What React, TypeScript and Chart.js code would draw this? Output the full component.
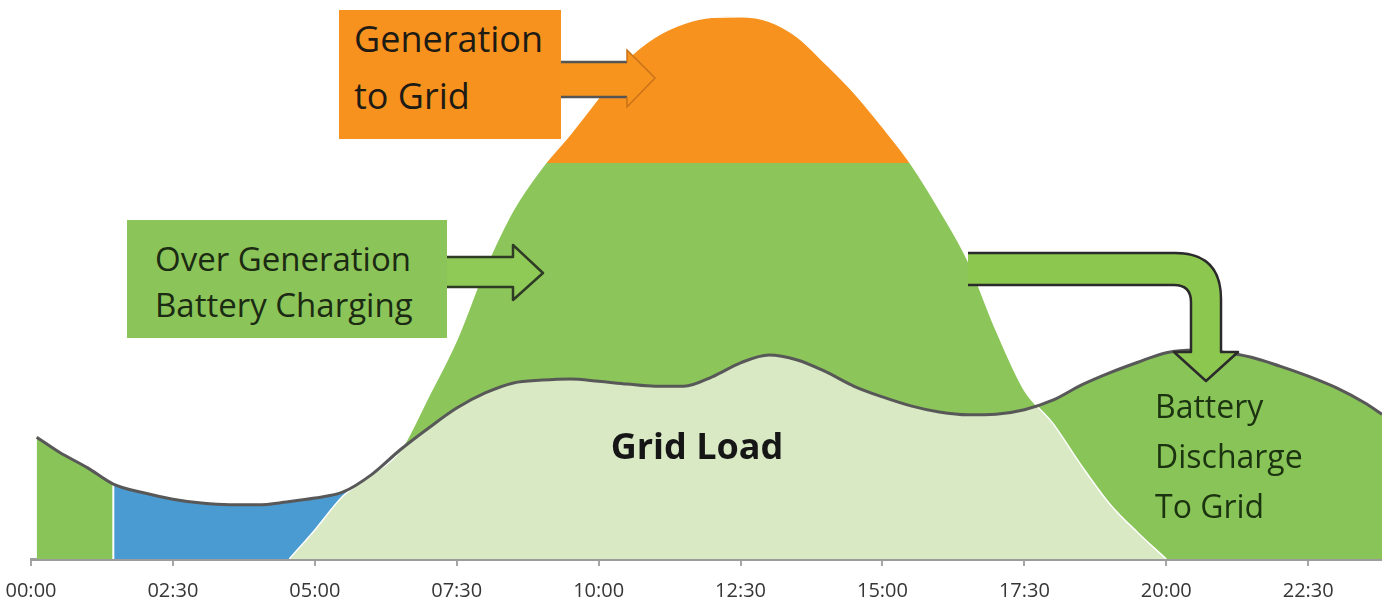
import React, { useEffect, useRef } from 'react';
import { Chart, registerables } from 'chart.js';

Chart.register(...registerables);

// ---- axis ----
const TICK_HOURS = [0, 2.5, 5, 7.5, 10, 12.5, 15, 17.5, 20, 22.5];
const TICK_LABELS = ['00:00', '02:30', '05:00', '07:30', '10:00', '12:30', '15:00', '17:30', '20:00', '22:30'];
const X_MIN = 0;
const X_MAX = 23.8;

// ---- grid load (relative power, 0-100) ----
const LOAD_HOURS = [0.1, 0.5, 1, 1.45, 2, 2.5, 3, 3.5, 4, 4.5, 5, 5.5, 6, 6.5, 7, 7.5, 8, 8.5, 9, 9.5, 10, 10.5, 11, 11.5, 12, 12.5, 13, 13.5, 14, 14.5, 15, 15.5, 16, 16.5, 17, 17.5, 18, 18.5, 19, 19.5, 20, 20.5, 21, 21.5, 22, 22.5, 23, 23.5, 23.8];
const LOAD = [21.8, 19.1, 16.3, 13.4, 11.8, 10.7, 10.0, 9.7, 9.7, 10.2, 10.9, 12.0, 15.1, 19.5, 23.4, 27.0, 29.7, 31.5, 32.0, 32.2, 31.8, 31.3, 30.9, 30.9, 32.6, 35.1, 36.5, 35.6, 33.5, 30.9, 29.0, 27.4, 26.3, 25.8, 25.9, 26.7, 28.4, 31.1, 33.3, 35.2, 36.9, 37.4, 37.0, 36.1, 34.5, 32.7, 30.6, 27.9, 25.9];

// ---- solar generation ----
const SOLAR_HOURS = [4.55, 5, 5.5, 6, 6.5, 7, 7.5, 8, 8.5, 9, 9.5, 10, 10.5, 11, 11.5, 12, 12.5, 13, 13.5, 14, 14.5, 15, 15.5, 16, 16.5, 17, 17.5, 18, 18.5, 19, 19.5, 20];
const SOLAR = [0, 5.2, 11.3, 15.0, 19.3, 29.0, 39.2, 52.0, 62.5, 70.0, 76.0, 82.5, 89.3, 93.4, 95.8, 96.9, 97.0, 96.2, 93.4, 88.6, 83.4, 77.3, 70.7, 62.6, 53.5, 41.0, 30.2, 24.3, 16.8, 9.9, 4.7, 0];

// generation above this level is exported to the grid
const GRID_EXPORT_LEVEL = 70.84;
// battery starts covering the load at this hour
const SPLIT_HOUR = 1.45;
const MIDDAY = 12;

const C_ORANGE = '#f7921e';
const C_OVERGEN = '#8cc65a';
const C_DISCHARGE = '#88c457';
const C_BLUE = '#4a9bd2';
const C_LIGHT = '#d8e9c4';

export default function App() {
  const ref = useRef<HTMLCanvasElement | null>(null);

  useEffect(() => {
    if (!ref.current) return;
    Chart.defaults.font.family = "'Open Sans', sans-serif";
    const pts = (hs: number[], vs: number[]) => hs.map((x, i) => ({ x, y: vs[i] }));
    const chart = new Chart(ref.current, {
      type: 'line',
      data: {
        datasets: [
          {
            label: 'Grid Load',
            data: pts(LOAD_HOURS, LOAD),
            order: 0,
            borderColor: '#585858',
            borderWidth: 3,
            fill: false,
            pointRadius: 0,
            cubicInterpolationMode: 'monotone',
          },
          {
            label: 'split',
            data: [{ x: SPLIT_HOUR, y: 0 }, { x: SPLIT_HOUR, y: 30 }],
            order: 1,
            borderColor: '#ffffff',
            borderWidth: 2,
            fill: false,
            pointRadius: 0,
            tension: 0,
          },
          {
            label: 'Generation to Grid',
            data: pts(SOLAR_HOURS, SOLAR),
            order: 2,
            borderWidth: 0,
            borderColor: 'transparent',
            backgroundColor: C_ORANGE,
            fill: { value: GRID_EXPORT_LEVEL, above: C_ORANGE, below: 'transparent' },
            pointRadius: 0,
            cubicInterpolationMode: 'monotone',
          },
          {
            label: 'Over Generation',
            data: pts(SOLAR_HOURS, SOLAR),
            order: 3,
            borderWidth: 0,
            borderColor: 'transparent',
            backgroundColor: C_OVERGEN,
            fill: { target: 0, above: C_OVERGEN, below: 'transparent' },
            pointRadius: 0,
            cubicInterpolationMode: 'monotone',
          },
          {
            label: 'Solar',
            data: pts(SOLAR_HOURS, SOLAR),
            order: 4,
            borderColor: '#ffffff',
            borderWidth: 1.5,
            backgroundColor: C_LIGHT,
            fill: 'origin',
            pointRadius: 0,
            cubicInterpolationMode: 'monotone',
          },
          {
            label: 'Battery',
            data: pts(LOAD_HOURS, LOAD),
            order: 5,
            borderWidth: 0,
            borderColor: 'transparent',
            backgroundColor: C_BLUE,
            fill: 'origin',
            pointRadius: 0,
            cubicInterpolationMode: 'monotone',
            segment: {
              backgroundColor: (ctx: any) => {
                const x = ctx.p0.parsed.x;
                if (x < SPLIT_HOUR) return C_DISCHARGE;
                if (x < MIDDAY) return C_BLUE;
                return C_DISCHARGE;
              },
            },
          },
        ] as any,
      },
      options: {
        responsive: false,
        animation: false,
        events: [],
        layout: { padding: { left: 31, right: 0, top: 0, bottom: 0 } },
        plugins: {
          legend: { display: false },
          tooltip: { enabled: false },
          filler: { drawTime: 'beforeDatasetsDraw', propagate: false },
        } as any,
        scales: {
          x: {
            type: 'linear',
            min: X_MIN,
            max: X_MAX,
            z: 1,
            afterBuildTicks: (axis: any) => {
              axis.ticks = TICK_HOURS.map((v) => ({ value: v }));
            },
            afterFit: (axis: any) => {
              axis.height = 41;
              axis.paddingLeft = 0;
              axis.paddingRight = 0;
            },
            ticks: {
              callback: (v: any) => {
                const i = TICK_HOURS.indexOf(Number(v));
                return i >= 0 ? TICK_LABELS[i] : '';
              },
              color: '#363636',
              font: { family: "'Open Sans', sans-serif", size: 20 },
              padding: 13,
              maxRotation: 0,
              autoSkip: false,
              includeBounds: false,
            },
            grid: {
              display: true,
              drawOnChartArea: false,
              drawTicks: true,
              tickLength: 7,
              color: '#a6a6a6',
              lineWidth: 2,
            },
            border: { display: true, color: '#9c9c9c', width: 3 },
          } as any,
          y: { type: 'linear', display: false, min: 0, max: 100 },
        },
      },
    });
    return () => chart.destroy();
  }, []);

  const font = "'Open Sans', sans-serif";
  const abs: React.CSSProperties = { position: 'absolute', pointerEvents: 'none' };

  const bentOutline =
    'M 968 253 L 1175 253 Q 1221 253 1221 299 L 1221 352 L 1238 352 L 1206 381 L 1174 352 L 1191 352 L 1191 302 Q 1191 285 1174 285 L 968 285';

  return (
    <div style={{ position: 'absolute', left: 0, top: 0, width: 1382, height: 600, overflow: 'hidden', background: '#ffffff' }}>
      <canvas ref={ref} width={1382} height={600} style={{ position: 'absolute', left: 0, top: 0, width: 1382, height: 600 }} />
      <svg width={1382} height={600} style={{ ...abs, left: 0, top: 0 }}>
        {/* orange arrow */}
        <polygon points="561,62 627,62 627,50 655,78 627,107 627,97 561,97" fill="#f7941d" />
        <polyline points="561,62 627,62" stroke="#555" strokeWidth={2.5} fill="none" />
        <polyline points="561,97 627,97" stroke="#555" strokeWidth={2.5} fill="none" />
        <polyline points="627,62 627,50 655,78 627,107 627,97" stroke="#c9721a" strokeWidth={1.5} fill="none" />
        {/* green arrow */}
        <polygon points="447,257 513,257 513,245 543,273 513,300 513,287 447,287" fill="#8fca57" />
        <polyline points="447,257 513,257 513,245 543,273 513,300 513,287 447,287" stroke="#2f3b25" strokeWidth={2.5} fill="none" strokeLinejoin="round" />
        {/* bent arrow */}
        <path d={bentOutline + ' Z'} fill="#8cc84f" />
        <path d={bentOutline} stroke="#2b2b2b" strokeWidth={2.5} fill="none" strokeLinejoin="round" />
      </svg>

      <div
        style={{
          ...abs,
          left: 339,
          top: 10,
          width: 222,
          height: 129,
          background: '#f7921e',
          boxSizing: 'border-box',
          paddingLeft: 15,
          fontFamily: font,
          fontSize: 36,
          lineHeight: '57px',
          color: '#1e1a14',
        }}
      >
        Generation
        <br />
        to Grid
      </div>

      <div
        style={{
          ...abs,
          left: 127,
          top: 220,
          width: 320,
          height: 118,
          background: '#8bc459',
          boxSizing: 'border-box',
          paddingLeft: 28,
          paddingTop: 16,
          fontFamily: font,
          fontSize: 33,
          lineHeight: '46px',
          color: '#1b2a12',
          whiteSpace: 'nowrap',
        }}
      >
        Over Generation
        <br />
        Battery Charging
      </div>

      <div
        style={{
          ...abs,
          left: 597,
          top: 426,
          width: 200,
          textAlign: 'center',
          fontFamily: font,
          fontSize: 36,
          fontWeight: 700,
          lineHeight: '40px',
          color: '#161616',
        }}
      >
        Grid Load
      </div>

      <div
        style={{
          ...abs,
          left: 1155,
          top: 381,
          fontFamily: font,
          fontSize: 32,
          lineHeight: '50px',
          color: '#1b3310',
          whiteSpace: 'nowrap',
        }}
      >
        Battery
        <br />
        Discharge
        <br />
        To Grid
      </div>
    </div>
  );
}
